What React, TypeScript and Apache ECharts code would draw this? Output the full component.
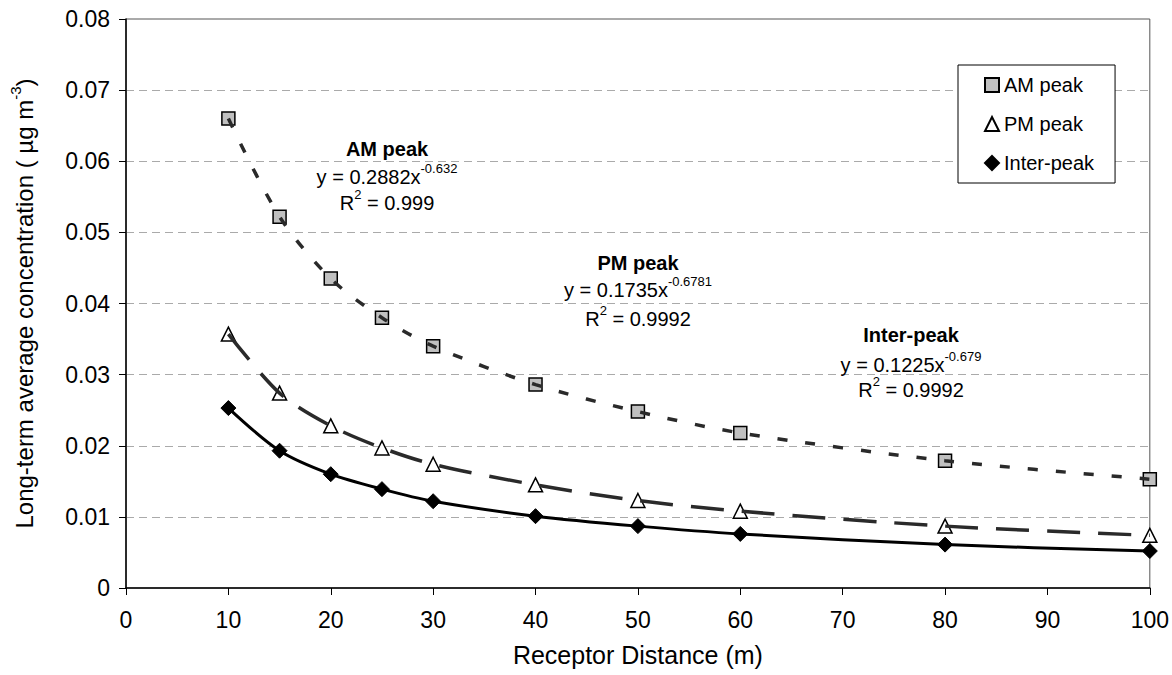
import React, { useEffect, useRef } from "react";
import * as echarts from "echarts";

const distances = [10, 15, 20, 25, 30, 40, 50, 60, 80, 100];
const amPeak = [0.066, 0.0522, 0.0435, 0.038, 0.034, 0.0286, 0.0248, 0.0218, 0.0179, 0.0153];
const pmPeak = [0.0357, 0.0274, 0.0228, 0.0197, 0.0174, 0.0145, 0.0123, 0.0108, 0.0087, 0.0074];
const interPeak = [0.0253, 0.0193, 0.016, 0.0139, 0.0122, 0.0101, 0.0087, 0.0076, 0.0061, 0.0052];
const seriesNames = ["AM peak", "PM peak", "Inter-peak"];
const fitTitles = ["AM peak", "PM peak", "Inter-peak"];
const fitCoefs = ["0.2882", "0.1735", "0.1225"];
const fitExps = ["-0.632", "-0.6781", "-0.679"];
const fitR2 = ["0.999", "0.9992", "0.9992"];

const FONT = "'Liberation Sans', Arial, sans-serif";

const pairs = (ys: number[]) => distances.map((x, i) => [x, ys[i]]);

export default function App() {
  const ref = useRef<HTMLDivElement>(null);
  useEffect(() => {
    document.body.style.margin = "0";
    if (!ref.current) return;
    const chart = echarts.init(ref.current, null, { renderer: "svg" });

    const annPos = [
      { x: 387, t: 149, e: 177, r: 203 },
      { x: 638, t: 263, e: 290, r: 319 },
      { x: 911, t: 335, e: 365, r: 390 },
    ];
    const rich = {
      m: { fontSize: 20, fontFamily: FONT, color: "#000", lineHeight: 30 },
      s: { fontSize: 13, fontFamily: FONT, color: "#000", verticalAlign: "top", lineHeight: 13 },
    };
    const graphics: any[] = [];
    annPos.forEach((p, i) => {
      graphics.push({
        type: "text",
        x: p.x,
        y: p.t,
        z: 10,
        style: {
          text: fitTitles[i],
          font: `bold 20px ${FONT}`,
          fill: "#000",
          textAlign: "center",
          textVerticalAlign: "middle",
        },
      });
      graphics.push({
        type: "text",
        x: p.x,
        y: p.e,
        z: 10,
        style: {
          text: `{m|y = ${fitCoefs[i]}x}{s|${fitExps[i]}}`,
          rich,
          textAlign: "center",
          textVerticalAlign: "middle",
        },
      });
      graphics.push({
        type: "text",
        x: p.x,
        y: p.r,
        z: 10,
        style: {
          text: `{m|R}{s|2}{m| = ${fitR2[i]}}`,
          rich,
          textAlign: "center",
          textVerticalAlign: "middle",
        },
      });
    });

    const trendColor = "#2a2a2a";
    chart.setOption({
      animation: false,
      textStyle: { fontFamily: FONT },
      grid: {
        left: 116,
        right: 21,
        top: 19,
        bottom: 87,
        show: true,
        borderColor: "#555",
        borderWidth: 1,
      },
      legend: {
        orient: "vertical",
        left: 958,
        top: 65,
        backgroundColor: "#fff",
        borderColor: "#000",
        borderWidth: 1,
        padding: [10, 21, 10, 26],
        itemGap: 19,
        itemWidth: 14,
        itemHeight: 14,
        textStyle: { fontSize: 20, color: "#000", fontFamily: FONT },
        data: [
          { name: seriesNames[0], icon: "rect" },
          { name: seriesNames[1], icon: "triangle" },
          { name: seriesNames[2], icon: "diamond" },
        ],
      },
      xAxis: {
        type: "value",
        min: 0,
        max: 100,
        interval: 10,
        name: "Receptor Distance (m)",
        nameLocation: "middle",
        nameGap: 54,
        nameTextStyle: { fontSize: 25, color: "#000", fontFamily: FONT },
        axisLine: { show: true, lineStyle: { color: "#000", width: 1.5 } },
        axisTick: { show: true, length: 7, lineStyle: { color: "#000", width: 1 } },
        axisLabel: { fontSize: 23, color: "#000", margin: 20, fontFamily: FONT },
        splitLine: { show: false },
      },
      yAxis: {
        type: "value",
        min: 0,
        max: 0.08,
        interval: 0.01,
        name: "{a|Long-term average concentration ( µg m}{s|-3}{a|)}",
        nameLocation: "middle",
        nameRotate: 90,
        nameGap: 86,
        nameTextStyle: {
          rich: {
            a: { fontSize: 24, color: "#000", fontFamily: FONT, lineHeight: 32 },
            s: { fontSize: 15, color: "#000", fontFamily: FONT, verticalAlign: "top", lineHeight: 15 },
          },
        },
        axisLine: { show: true, lineStyle: { color: "#000", width: 1.5 } },
        axisTick: { show: true, length: 7, lineStyle: { color: "#000", width: 1 } },
        axisLabel: {
          fontSize: 23,
          color: "#000",
          margin: 16,
          fontFamily: FONT,
          formatter: (v: number) => (v === 0 ? "0" : v.toFixed(2)),
        },
        splitLine: { show: true, lineStyle: { color: "#aaa", width: 1, type: [8, 5] } },
      },
      graphic: graphics,
      series: [
        {
          name: seriesNames[0],
          type: "scatter",
          data: pairs(amPeak),
          symbol: "rect",
          symbolSize: 13,
          itemStyle: { color: "#c0c0c0", borderColor: "#000", borderWidth: 1.5, opacity: 1 },
          z: 3,
        },
        {
          name: seriesNames[1],
          type: "scatter",
          data: pairs(pmPeak),
          symbol: "triangle",
          symbolSize: 14,
          itemStyle: { color: "#fff", borderColor: "#000", borderWidth: 1.5, opacity: 1 },
          z: 3,
        },
        {
          name: seriesNames[2],
          type: "scatter",
          data: pairs(interPeak),
          symbol: "diamond",
          symbolSize: 15,
          itemStyle: { color: "#000", borderColor: "#000", borderWidth: 1, opacity: 1 },
          z: 3,
        },
        {
          name: "AM trend",
          type: "line",
          data: pairs(amPeak),
          showSymbol: false,
          smooth: 0.3,
          lineStyle: { color: trendColor, width: 3.5, type: [10, 18] },
          z: 4,
          silent: true,
        },
        {
          name: "PM trend",
          type: "line",
          data: pairs(pmPeak),
          showSymbol: false,
          smooth: 0.3,
          lineStyle: { color: trendColor, width: 3.5, type: [33, 18] },
          z: 4,
          silent: true,
        },
        {
          name: "Inter trend",
          type: "line",
          data: pairs(interPeak),
          showSymbol: false,
          smooth: 0.3,
          lineStyle: { color: "#000", width: 3 },
          z: 4,
          silent: true,
        },
      ],
    });
    return () => chart.dispose();
  }, []);
  return <div ref={ref} style={{ width: 1172, height: 675 }} />;
}
